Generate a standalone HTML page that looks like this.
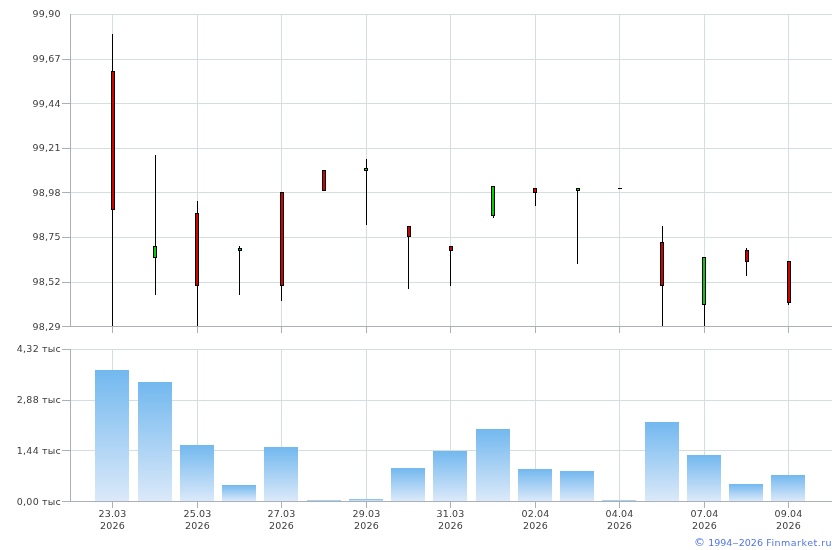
<!DOCTYPE html>
<html lang="ru"><head><meta charset="utf-8"><title>Finmarket chart</title>
<style>
html,body{margin:0;padding:0;background:#fff}
#c{position:relative;width:840px;height:550px;overflow:hidden;background:#fff;
font-family:"DejaVu Sans","Liberation Sans",sans-serif;font-size:9.5px;line-height:12px;color:#3c3c3c}
#c div,#c span{position:absolute}
.bar{width:34px;background:linear-gradient(to bottom,#72b8ef,#dbe9f9)}
.yl{left:0;width:60.8px;text-align:right;white-space:nowrap}
.xl{width:61px;text-align:center;white-space:nowrap}
.cp{left:695px;top:537px;color:#5073e6;white-space:nowrap;word-spacing:0.8px}
#c i{position:static;font-style:normal;letter-spacing:0.15px}
#c b{position:static;display:inline-block;font-weight:normal;transform:scaleX(1.35);margin:0 0.8px}
#c u{position:static;text-decoration:none;font-size:11px;line-height:12px;margin-left:-1px;margin-right:-0.6px}
#c .cp i{letter-spacing:0.49px;margin-left:-0.6px}
.xl{letter-spacing:0.2px}
.yl{letter-spacing:0.22px;word-spacing:-0.25px}
.vl{letter-spacing:0.3px}
</style></head><body><div id="c">
<div style="left:70px;top:14px;width:762px;height:1px;background:#d4dde0;"></div>
<div style="left:70px;top:59px;width:762px;height:1px;background:#d4dde0;"></div>
<div style="left:70px;top:103px;width:762px;height:1px;background:#d4dde0;"></div>
<div style="left:70px;top:148px;width:762px;height:1px;background:#d4dde0;"></div>
<div style="left:70px;top:192px;width:762px;height:1px;background:#d4dde0;"></div>
<div style="left:70px;top:237px;width:762px;height:1px;background:#d4dde0;"></div>
<div style="left:70px;top:282px;width:762px;height:1px;background:#d4dde0;"></div>
<div style="left:112px;top:14px;width:1px;height:312px;background:#d4dde0;"></div>
<div style="left:112px;top:349px;width:1px;height:152px;background:#d4dde0;"></div>
<div style="left:197px;top:14px;width:1px;height:312px;background:#d4dde0;"></div>
<div style="left:197px;top:349px;width:1px;height:152px;background:#d4dde0;"></div>
<div style="left:281px;top:14px;width:1px;height:312px;background:#d4dde0;"></div>
<div style="left:281px;top:349px;width:1px;height:152px;background:#d4dde0;"></div>
<div style="left:366px;top:14px;width:1px;height:312px;background:#d4dde0;"></div>
<div style="left:366px;top:349px;width:1px;height:152px;background:#d4dde0;"></div>
<div style="left:450px;top:14px;width:1px;height:312px;background:#d4dde0;"></div>
<div style="left:450px;top:349px;width:1px;height:152px;background:#d4dde0;"></div>
<div style="left:535px;top:14px;width:1px;height:312px;background:#d4dde0;"></div>
<div style="left:535px;top:349px;width:1px;height:152px;background:#d4dde0;"></div>
<div style="left:619px;top:14px;width:1px;height:312px;background:#d4dde0;"></div>
<div style="left:619px;top:349px;width:1px;height:152px;background:#d4dde0;"></div>
<div style="left:704px;top:14px;width:1px;height:312px;background:#d4dde0;"></div>
<div style="left:704px;top:349px;width:1px;height:152px;background:#d4dde0;"></div>
<div style="left:788px;top:14px;width:1px;height:312px;background:#d4dde0;"></div>
<div style="left:788px;top:349px;width:1px;height:152px;background:#d4dde0;"></div>
<div style="left:70px;top:349px;width:762px;height:1px;background:#d4dde0;"></div>
<div style="left:70px;top:400px;width:762px;height:1px;background:#d4dde0;"></div>
<div style="left:70px;top:450px;width:762px;height:1px;background:#d4dde0;"></div>
<div class="bar" style="left:95px;top:370px;height:131px"></div>
<div class="bar" style="left:138px;top:382px;height:119px"></div>
<div class="bar" style="left:180px;top:445px;height:56px"></div>
<div class="bar" style="left:222px;top:485px;height:16px"></div>
<div class="bar" style="left:264px;top:447px;height:54px"></div>
<div class="bar" style="left:307px;top:500px;height:1px"></div>
<div class="bar" style="left:349px;top:499px;height:2px"></div>
<div class="bar" style="left:391px;top:468px;height:33px"></div>
<div class="bar" style="left:433px;top:451px;height:50px"></div>
<div class="bar" style="left:476px;top:429px;height:72px"></div>
<div class="bar" style="left:518px;top:469px;height:32px"></div>
<div class="bar" style="left:560px;top:471px;height:30px"></div>
<div class="bar" style="left:602px;top:500px;height:1px"></div>
<div class="bar" style="left:645px;top:422px;height:79px"></div>
<div class="bar" style="left:687px;top:455px;height:46px"></div>
<div class="bar" style="left:729px;top:484px;height:17px"></div>
<div class="bar" style="left:771px;top:475px;height:26px"></div>
<div style="left:112px;top:34px;width:1px;height:292px;background:#000;"></div>
<div style="left:111px;top:71px;width:4px;height:139px;background:#000;"></div>
<div style="left:112px;top:72px;width:2px;height:137px;background:#d40000;"></div>
<div style="left:155px;top:155px;width:1px;height:140px;background:#000;"></div>
<div style="left:153px;top:246px;width:4px;height:12px;background:#000;"></div>
<div style="left:154px;top:247px;width:2px;height:10px;background:#00d000;"></div>
<div style="left:197px;top:201px;width:1px;height:125px;background:#000;"></div>
<div style="left:195px;top:213px;width:4px;height:73px;background:#000;"></div>
<div style="left:196px;top:214px;width:2px;height:71px;background:#d40000;"></div>
<div style="left:239px;top:246px;width:1px;height:49px;background:#000;"></div>
<div style="left:238px;top:248px;width:4px;height:3px;background:#000;"></div>
<div style="left:239px;top:249px;width:2px;height:1px;background:#00d000;"></div>
<div style="left:281px;top:192px;width:1px;height:109px;background:#000;"></div>
<div style="left:280px;top:192px;width:4px;height:94px;background:#000;"></div>
<div style="left:281px;top:193px;width:2px;height:92px;background:#d40000;"></div>
<div style="left:322px;top:170px;width:4px;height:21px;background:#000;"></div>
<div style="left:323px;top:171px;width:2px;height:19px;background:#d40000;"></div>
<div style="left:366px;top:159px;width:1px;height:66px;background:#000;"></div>
<div style="left:364px;top:168px;width:4px;height:3px;background:#000;"></div>
<div style="left:365px;top:169px;width:2px;height:1px;background:#00d000;"></div>
<div style="left:408px;top:226px;width:1px;height:63px;background:#000;"></div>
<div style="left:407px;top:226px;width:4px;height:11px;background:#000;"></div>
<div style="left:408px;top:227px;width:2px;height:9px;background:#d40000;"></div>
<div style="left:450px;top:246px;width:1px;height:40px;background:#000;"></div>
<div style="left:449px;top:246px;width:4px;height:5px;background:#000;"></div>
<div style="left:450px;top:247px;width:2px;height:3px;background:#d40000;"></div>
<div style="left:493px;top:186px;width:1px;height:32px;background:#000;"></div>
<div style="left:491px;top:186px;width:4px;height:30px;background:#000;"></div>
<div style="left:492px;top:187px;width:2px;height:28px;background:#00d000;"></div>
<div style="left:535px;top:188px;width:1px;height:18px;background:#000;"></div>
<div style="left:533px;top:188px;width:4px;height:5px;background:#000;"></div>
<div style="left:534px;top:189px;width:2px;height:3px;background:#d40000;"></div>
<div style="left:577px;top:188px;width:1px;height:76px;background:#000;"></div>
<div style="left:576px;top:188px;width:4px;height:3px;background:#000;"></div>
<div style="left:577px;top:189px;width:2px;height:1px;background:#00d000;"></div>
<div style="left:618px;top:188px;width:4px;height:1px;background:#000;"></div>
<div style="left:662px;top:226px;width:1px;height:100px;background:#000;"></div>
<div style="left:660px;top:242px;width:4px;height:44px;background:#000;"></div>
<div style="left:661px;top:243px;width:2px;height:42px;background:#d40000;"></div>
<div style="left:704px;top:257px;width:1px;height:69px;background:#000;"></div>
<div style="left:702px;top:257px;width:4px;height:48px;background:#000;"></div>
<div style="left:703px;top:258px;width:2px;height:46px;background:#00d000;"></div>
<div style="left:746px;top:248px;width:1px;height:28px;background:#000;"></div>
<div style="left:745px;top:250px;width:4px;height:12px;background:#000;"></div>
<div style="left:746px;top:251px;width:2px;height:10px;background:#d40000;"></div>
<div style="left:788px;top:261px;width:1px;height:44px;background:#000;"></div>
<div style="left:787px;top:261px;width:4px;height:42px;background:#000;"></div>
<div style="left:788px;top:262px;width:2px;height:40px;background:#d40000;"></div>
<div style="left:70px;top:14px;width:1px;height:313px;background:#abafb8;"></div>
<div style="left:62px;top:326px;width:770px;height:1px;background:#abafb8;"></div>
<div style="left:62px;top:59px;width:8px;height:1px;background:#abafb8;"></div>
<div style="left:62px;top:103px;width:8px;height:1px;background:#abafb8;"></div>
<div style="left:62px;top:148px;width:8px;height:1px;background:#abafb8;"></div>
<div style="left:62px;top:192px;width:8px;height:1px;background:#abafb8;"></div>
<div style="left:62px;top:237px;width:8px;height:1px;background:#abafb8;"></div>
<div style="left:62px;top:282px;width:8px;height:1px;background:#abafb8;"></div>
<div style="left:112px;top:327px;width:1px;height:6px;background:#abafb8;"></div>
<div style="left:197px;top:327px;width:1px;height:6px;background:#abafb8;"></div>
<div style="left:281px;top:327px;width:1px;height:6px;background:#abafb8;"></div>
<div style="left:366px;top:327px;width:1px;height:6px;background:#abafb8;"></div>
<div style="left:450px;top:327px;width:1px;height:6px;background:#abafb8;"></div>
<div style="left:535px;top:327px;width:1px;height:6px;background:#abafb8;"></div>
<div style="left:619px;top:327px;width:1px;height:6px;background:#abafb8;"></div>
<div style="left:704px;top:327px;width:1px;height:6px;background:#abafb8;"></div>
<div style="left:788px;top:327px;width:1px;height:6px;background:#abafb8;"></div>
<div style="left:70px;top:349px;width:1px;height:153px;background:#abafb8;"></div>
<div style="left:62px;top:501px;width:770px;height:1px;background:#abafb8;"></div>
<div style="left:62px;top:349px;width:8px;height:1px;background:#abafb8;"></div>
<div style="left:62px;top:400px;width:8px;height:1px;background:#abafb8;"></div>
<div style="left:62px;top:450px;width:8px;height:1px;background:#abafb8;"></div>
<div style="left:112px;top:502px;width:1px;height:6px;background:#abafb8;"></div>
<div style="left:197px;top:502px;width:1px;height:6px;background:#abafb8;"></div>
<div style="left:281px;top:502px;width:1px;height:6px;background:#abafb8;"></div>
<div style="left:366px;top:502px;width:1px;height:6px;background:#abafb8;"></div>
<div style="left:450px;top:502px;width:1px;height:6px;background:#abafb8;"></div>
<div style="left:535px;top:502px;width:1px;height:6px;background:#abafb8;"></div>
<div style="left:619px;top:502px;width:1px;height:6px;background:#abafb8;"></div>
<div style="left:704px;top:502px;width:1px;height:6px;background:#abafb8;"></div>
<div style="left:788px;top:502px;width:1px;height:6px;background:#abafb8;"></div>
<span class="yl" style="top:8px">99,90</span>
<span class="yl" style="top:53px">99,67</span>
<span class="yl" style="top:98px">99,44</span>
<span class="yl" style="top:142px">99,21</span>
<span class="yl" style="top:187px">98,98</span>
<span class="yl" style="top:231px">98,75</span>
<span class="yl" style="top:276px">98,52</span>
<span class="yl" style="top:321px">98,29</span>
<span class="yl vl" style="top:343px">4,32 <i>тыс</i></span>
<span class="yl vl" style="top:394px">2,88 <i>тыс</i></span>
<span class="yl vl" style="top:445px">1,44 <i>тыс</i></span>
<span class="yl vl" style="top:496px">0,00 <i>тыс</i></span>
<span class="xl" style="left:82px;top:508px">23.03<br>2026</span>
<span class="xl" style="left:167px;top:508px">25.03<br>2026</span>
<span class="xl" style="left:251px;top:508px">27.03<br>2026</span>
<span class="xl" style="left:336px;top:508px">29.03<br>2026</span>
<span class="xl" style="left:420px;top:508px">31.03<br>2026</span>
<span class="xl" style="left:505px;top:508px">02.04<br>2026</span>
<span class="xl" style="left:589px;top:508px">04.04<br>2026</span>
<span class="xl" style="left:674px;top:508px">07.04<br>2026</span>
<span class="xl" style="left:758px;top:508px">09.04<br>2026</span>
<span class="cp"><u>©</u> 1994<b>–</b>2026 <i>Finmarket.ru</i></span>
</div></body></html>
